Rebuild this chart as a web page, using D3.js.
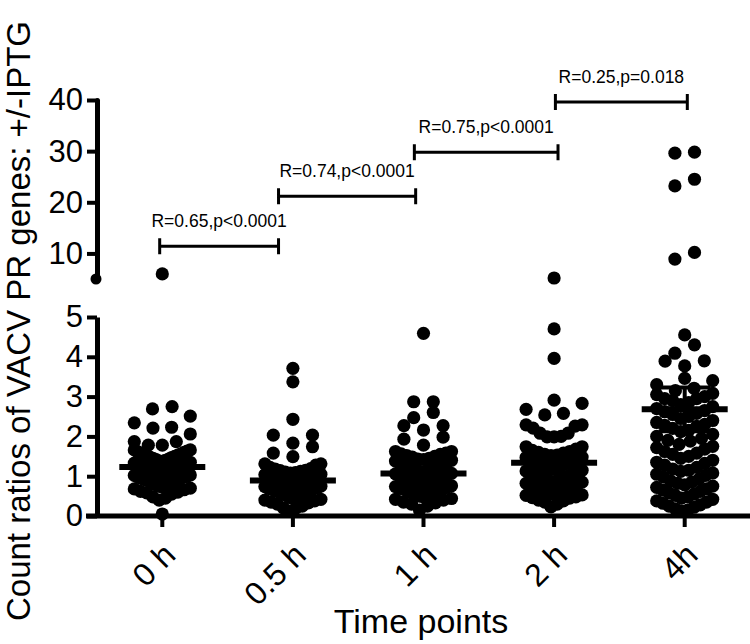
<!DOCTYPE html>
<html>
<head>
<meta charset="utf-8">
<script src="https://cdn.jsdelivr.net/npm/d3@7"></script>
<style>
  html, body { margin: 0; padding: 0; background: #fff; }
  svg { display: block; font-family: "Liberation Sans", Arial, Helvetica, sans-serif; }
</style>
</head>
<body>
<div id="chart"></div>
<script>
// time points on the x axis
const categories = ["0 h", "0.5 h", "1 h", "2 h", "4h"];

// count ratios per time point
const ratios0h = [6.0, 2.75, 2.69, 2.51, 2.34, 2.23, 2.21, 2.06, 1.87, 1.87, 1.78, 1.78, 1.66, 1.66,
  1.63, 1.62, 1.6, 1.58, 1.56, 1.55, 1.53, 1.52, 1.5, 1.48, 1.47, 1.45, 1.43, 1.42, 1.4, 1.38,
  1.37, 1.35, 1.33, 1.32, 1.3, 1.28, 1.27, 1.26, 1.24, 1.23, 1.22, 1.21, 1.2, 1.18, 1.17, 1.15,
  1.13, 1.12, 1.1, 1.09, 1.08, 1.06, 1.05, 1.03, 1.02, 1.0, 0.99, 0.98, 0.96, 0.95, 0.93, 0.92,
  0.9, 0.88, 0.87, 0.85, 0.83, 0.82, 0.8, 0.78, 0.76, 0.74, 0.74, 0.7, 0.68, 0.66, 0.62, 0.6,
  0.58, 0.55, 0.48, 0.45, 0.4, 0.05];
const ratios05h = [3.71, 3.37, 2.43, 2.03, 2.03, 1.83, 1.74, 1.58, 1.49, 1.31, 1.31, 1.28,
  1.22, 1.19, 1.18, 1.15, 1.14, 1.12, 1.1, 1.09, 1.08, 1.05, 1.04, 1.02, 1.0, 0.99, 0.98, 0.96,
  0.95, 0.94, 0.92, 0.91, 0.9, 0.88, 0.87, 0.86, 0.84, 0.83, 0.82, 0.8, 0.79, 0.78, 0.76, 0.75,
  0.74, 0.72, 0.71, 0.7, 0.68, 0.67, 0.66, 0.64, 0.63, 0.62, 0.6, 0.59, 0.57, 0.55, 0.54, 0.51,
  0.5, 0.48, 0.46, 0.45, 0.42, 0.4, 0.38, 0.35, 0.33, 0.3, 0.25, 0.2, 0.2, 0.12];
const ratios1h = [4.59, 2.87, 2.87, 2.6, 2.47, 2.27, 2.27, 2.16, 1.98, 1.93, 1.78, 1.62, 1.62,
  1.58, 1.56, 1.55, 1.52, 1.5, 1.48, 1.45, 1.43, 1.42, 1.4, 1.38, 1.36, 1.33, 1.31, 1.3, 1.27,
  1.25, 1.24, 1.2, 1.19, 1.17, 1.14, 1.12, 1.1, 1.07, 1.06, 1.04, 1.01, 1.0, 0.98, 0.95, 0.94,
  0.92, 0.88, 0.87, 0.85, 0.82, 0.8, 0.79, 0.76, 0.74, 0.73, 0.7, 0.68, 0.67, 0.64, 0.62, 0.61,
  0.58, 0.56, 0.55, 0.52, 0.5, 0.48, 0.44, 0.42, 0.4, 0.35, 0.33, 0.3, 0.25, 0.15];
const ratios2h = [5.2, 4.7, 3.96, 2.91, 2.83, 2.68, 2.58, 2.54, 2.29, 2.29, 2.26, 2.21, 2.08, 2.08,
  2.0, 1.99, 1.99, 1.74, 1.74, 1.68, 1.65, 1.62, 1.6, 1.58, 1.55, 1.53, 1.52, 1.48, 1.47, 1.45,
  1.42, 1.4, 1.38, 1.35, 1.33, 1.32, 1.28, 1.27, 1.25, 1.22, 1.2, 1.18, 1.15, 1.13, 1.12, 1.08,
  1.06, 1.05, 1.02, 1.0, 0.98, 0.95, 0.93, 0.92, 0.88, 0.86, 0.85, 0.82, 0.8, 0.78, 0.75, 0.73,
  0.72, 0.68, 0.66, 0.65, 0.62, 0.6, 0.58, 0.55, 0.53, 0.52, 0.48, 0.46, 0.45, 0.4, 0.38, 0.35,
  0.3, 0.23];
const ratios4h = [29.8, 29.6, 24.5, 23.2, 10.2, 8.9,
  4.55, 4.3, 4.09, 3.9, 3.89, 3.77, 3.46, 3.4, 3.3, 3.21, 3.15, 3.08, 3.05, 3.0, 2.95, 2.95, 2.9,
  2.85, 2.8, 2.75, 2.7, 2.65, 2.62, 2.58, 2.55, 2.5, 2.45, 2.4, 2.35, 2.3, 2.28, 2.25, 2.2, 2.15,
  2.12, 2.05, 2.0, 1.95, 1.9, 1.88, 1.8, 1.75, 1.72, 1.68, 1.62, 1.58, 1.55, 1.5, 1.45, 1.4, 1.35,
  1.32, 1.28, 1.22, 1.18, 1.15, 1.12, 1.08, 1.05, 1.02, 0.98, 0.92, 0.88, 0.85, 0.82, 0.78, 0.75,
  0.72, 0.68, 0.65, 0.62, 0.58, 0.55, 0.52, 0.48, 0.45, 0.42, 0.38, 0.35, 0.32, 0.28, 0.25, 0.22,
  0.18, 0.15, 0.12];
const seriesValues = [ratios0h, ratios05h, ratios1h, ratios2h, ratios4h];

// mean and SEM bars
const means = [1.23, 0.89, 1.07, 1.34, 2.68];
const sems = [0.09, 0.09, 0.1, 0.11, 0.55];

// broken y axis ticks
const lowerTicks = [0, 1, 2, 3, 4, 5];
const upperTicks = [10, 20, 30, 40];

// comparison brackets (category index from/to, height on y axis)
const bracketLabels = ["R=0.65,p<0.0001", "R=0.74,p<0.0001", "R=0.75,p<0.0001", "R=0.25,p=0.018"];
const bracketFrom = [-0.02, 0.89, 1.93, 3.01];
const bracketTo = [0.89, 1.94, 3.03, 4.02];
const bracketLevel = [11.4, 21.2, 29.8, 39.6];

const WIDTH = 750, HEIGHT = 644;
const AXIS_X = 97, AXIS_Y = 516;
const R = 6.6;

const svg = d3.select("#chart").append("svg")
  .attr("width", WIDTH)
  .attr("height", HEIGHT);

const x = d3.scaleBand().domain(categories).range([AXIS_X, WIDTH]).padding(0);
const cx = (c) => x(c) + x.bandwidth() / 2;
const xIdx = d3.scaleLinear().domain([0, categories.length - 1])
  .range([cx(categories[0]), cx(categories[categories.length - 1])]);

const yLow = d3.scaleLinear().domain([0, 5]).range([AXIS_Y, 317]);
const yUp = d3.scaleLinear().domain([5, 40]).range([279, 100]);
const yPos = (v) => (v > 5 ? yUp(v) : yLow(v));

// lower y axis
const gLow = svg.append("g")
  .attr("transform", `translate(${AXIS_X},0)`)
  .call(d3.axisLeft(yLow).tickValues(lowerTicks).tickFormat(d3.format("d"))
    .tickSize(10).tickSizeOuter(0).tickPadding(4));

// upper y axis
const gUp = svg.append("g")
  .attr("transform", `translate(${AXIS_X},0)`)
  .call(d3.axisLeft(yUp).tickValues(upperTicks).tickFormat(d3.format("d"))
    .tickSize(10).tickSizeOuter(0).tickPadding(4));

[gLow, gUp].forEach((g) => {
  g.select(".domain").attr("stroke-width", 5);
  g.selectAll(".tick line").attr("stroke-width", 4);
  g.selectAll(".tick text")
    .style("font-size", "31px")
    .attr("fill", "#000");
});
gUp.select(".domain").attr("stroke-linecap", "round");
svg.append("circle")
  .attr("cx", AXIS_X - 1)
  .attr("cy", yUp(5))
  .attr("r", 5.5);

// x axis
const gX = svg.append("g")
  .attr("transform", `translate(0,${AXIS_Y})`)
  .call(d3.axisBottom(x).tickSize(11).tickSizeOuter(0));
gX.select(".domain").remove();
gX.selectAll(".tick line").attr("stroke-width", 4);
gX.selectAll(".tick text")
  .style("font-size", "32px")
  .attr("fill", "#000")
  .attr("text-anchor", "end")
  .attr("x", 0)
  .attr("y", 0)
  .attr("dy", 0)
  .attr("transform", "translate(15,41) rotate(-45)");
svg.append("line")
  .attr("x1", AXIS_X - 11)
  .attr("x2", WIDTH)
  .attr("y1", AXIS_Y)
  .attr("y2", AXIS_Y)
  .attr("stroke", "#000")
  .attr("stroke-width", 5);

// column scatter layout: bin by pixel height, spread each row around the centre
const ROW_H = 12, COL = 9.8, MAX_HALF = 28;
function layoutGroup(values, centre) {
  const pts = values.map((v) => ({ v, y: yPos(v) })).sort((a, b) => b.y - a.y);
  const rows = [];
  let cur = null;
  pts.forEach((p) => {
    if (!cur || cur[0].y - p.y > ROW_H) {
      cur = [p];
      rows.push(cur);
    } else {
      cur.push(p);
    }
  });
  rows.forEach((row) => {
    const n = row.length;
    const step = n > 1 ? Math.min(COL * 2, (MAX_HALF * 2) / (n - 1)) : 0;
    const offs = d3.range(n)
      .map((i) => (i - (n - 1) / 2) * step)
      .sort((a, b) => Math.abs(a) - Math.abs(b) || a - b);
    row.forEach((p, i) => (p.x = centre + offs[i]));
  });
  return pts;
}

const groups = svg.append("g").selectAll("g")
  .data(categories)
  .join("g");

groups.each(function (c, i) {
  const pts = layoutGroup(seriesValues[i], cx(c));
  d3.select(this).selectAll("circle")
    .data(pts)
    .join("circle")
    .attr("cx", (d) => d.x)
    .attr("cy", (d) => d.y)
    .attr("r", R)
    .attr("fill", "#000");
});

// mean +/- SEM
const stats = svg.append("g").attr("stroke", "#000");
categories.forEach((c, i) => {
  const xc = cx(c);
  stats.append("line")
    .attr("x1", xc).attr("x2", xc)
    .attr("y1", yLow(means[i] - sems[i])).attr("y2", yLow(means[i] + sems[i]))
    .attr("stroke-width", 4);
  [means[i] - sems[i], means[i] + sems[i]].forEach((v) => {
    stats.append("line")
      .attr("x1", xc - 26).attr("x2", xc + 26)
      .attr("y1", yLow(v)).attr("y2", yLow(v))
      .attr("stroke-width", 4);
  });
  stats.append("line")
    .attr("x1", xc - 43).attr("x2", xc + 43)
    .attr("y1", yLow(means[i])).attr("y2", yLow(means[i]))
    .attr("stroke-width", 6);
});

// brackets with correlation labels
const br = svg.append("g").selectAll("g")
  .data(bracketLabels)
  .join("g");
br.append("path")
  .attr("fill", "none")
  .attr("stroke", "#000")
  .attr("stroke-width", 3)
  .attr("d", (d, i) => {
    const x1 = xIdx(bracketFrom[i]), x2 = xIdx(bracketTo[i]), y = yUp(bracketLevel[i]);
    return `M${x1},${y - 8}V${y + 8}M${x1},${y}H${x2}M${x2},${y - 8}V${y + 8}`;
  });
br.append("text")
  .attr("x", (d, i) => (xIdx(bracketFrom[i]) + xIdx(bracketTo[i])) / 2)
  .attr("y", (d, i) => yUp(bracketLevel[i]) - 19)
  .attr("text-anchor", "middle")
  .style("font-size", "17.5px")
  .text((d) => d);

// axis titles
svg.append("text")
  .attr("transform", "translate(30,321) rotate(-90)")
  .attr("text-anchor", "middle")
  .style("font-size", "33px")
  .text("Count ratios of VACV PR genes: +/-IPTG");

svg.append("text")
  .attr("x", 421)
  .attr("y", 633)
  .attr("text-anchor", "middle")
  .style("font-size", "34px")
  .text("Time points");
</script>
</body>
</html>
